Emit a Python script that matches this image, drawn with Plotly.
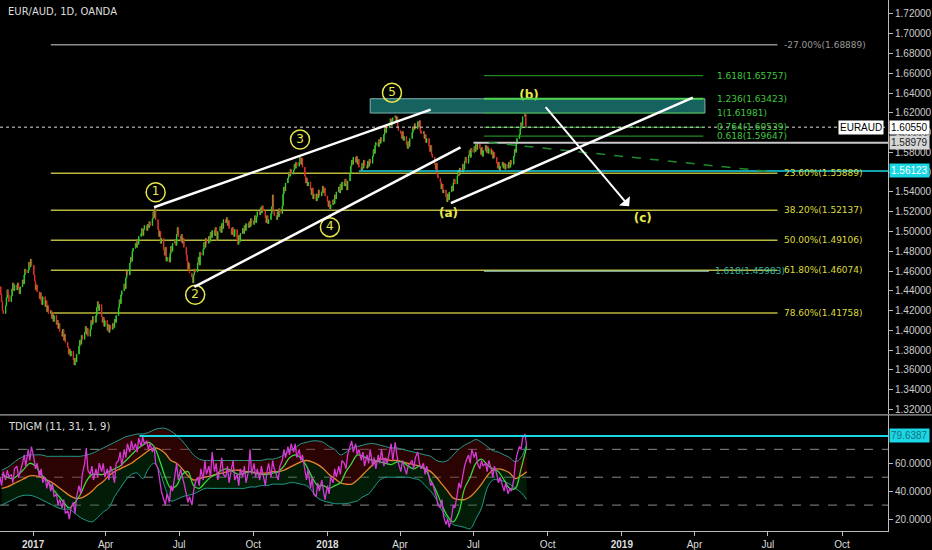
import pandas as pd
import plotly.graph_objects as go
from plotly.subplots import make_subplots

# EUR/AUD daily closes (x 10000), one row per week (Mon-Fri) starting 2016-11-21
closes = [
    14440, 14360, 14290, 14200, 14170,
    14250, 14330, 14410, 14360, 14290,
    14350, 14420, 14480, 14400, 14460,
    14410, 14480, 14430, 14370, 14440,
    14510, 14470, 14560, 14620, 14580,
    14610, 14690, 14640, 14720, 14660,
    14560, 14500, 14410, 14460, 14390,
    14320, 14380, 14300, 14260, 14340,
    14240, 14300, 14190, 14250, 14170,
    14200, 14120, 14180, 14090, 14150,
    14060, 14100, 14020, 14070, 13990,
    13940, 14010, 13900, 13960, 13880,
    13830, 13760, 13810, 13740, 13790,
    13700, 13650, 13720, 13680, 13760,
    13840, 13900, 13860, 13950, 13910,
    13980, 14040, 13960, 14020, 13940,
    14010, 14100, 14060, 14140, 14080,
    14150, 14230, 14290, 14200, 14260,
    14140, 14080, 14130, 14040, 14100,
    14000, 14060, 13980, 14050, 14010,
    14070, 14030, 14110, 14080, 14150,
    14230, 14310, 14270, 14360, 14400,
    14470, 14420, 14530, 14600, 14560,
    14680, 14740, 14700, 14800, 14830,
    14880, 14840, 14920, 14870, 14950,
    14980, 15030, 14960, 15020, 15060,
    15010, 15070, 15040, 15100, 15060,
    15130, 15200, 15140, 15230, 15120,
    15020, 14950, 15000, 14880, 14930,
    14820, 14760, 14840, 14700, 14740,
    14690, 14780, 14850, 14800, 14880,
    14920, 14860, 14970, 15040, 14950,
    14900, 14970, 14880, 14930, 14840,
    14760, 14700, 14620, 14680, 14580,
    14540, 14480, 14560, 14620, 14590,
    14680, 14740, 14660, 14790, 14760,
    14820, 14890, 14840, 14930, 14880,
    14950, 14900, 14990, 14940, 15010,
    14960, 15040, 14980, 14910, 15000,
    15050, 14990, 15080, 15030, 15120,
    15090, 15140, 15060, 15110, 15030,
    14970, 15040, 14990, 14950, 15020,
    14930, 14870, 14960, 14900, 14980,
    15030, 14980, 15060, 15010, 15080,
    15040, 15100, 15050, 15130, 15070,
    15110, 15160, 15090, 15150, 15200,
    15170, 15240, 15190, 15260, 15210,
    15140, 15090, 15160, 15080, 15120,
    15180, 15250, 15370, 15220, 15160,
    15120, 15200, 15150, 15230, 15180,
    15260, 15380, 15450, 15410, 15490,
    15540, 15600, 15560, 15630, 15580,
    15620, 15680, 15640, 15700, 15660,
    15700, 15750, 15680, 15740, 15650,
    15560, 15490, 15540, 15460, 15500,
    15420, 15370, 15440, 15330, 15380,
    15310, 15380, 15340, 15420, 15360,
    15400, 15460, 15390, 15440, 15360,
    15300, 15250, 15310, 15230, 15270,
    15320, 15280, 15370, 15330, 15400,
    15450, 15390, 15480, 15420, 15500,
    15460, 15530, 15480, 15420, 15510,
    15580, 15660, 15720, 15680, 15750,
    15700, 15760, 15680, 15730, 15650,
    15620, 15690, 15640, 15720, 15670,
    15640, 15710, 15660, 15730, 15690,
    15760, 15830, 15790, 15870, 15900,
    15860, 15930, 15890, 15950, 15910,
    15980, 16040, 16000, 16080, 16050,
    16090, 16140, 16070, 16120, 16150,
    16170, 16110, 16160, 16060, 16020,
    15990, 15940, 16010, 15920, 15960,
    15880, 15840, 15910, 15860, 15940,
    16000, 16060, 16030, 16090, 16040,
    16110, 16060, 16120, 16020, 15990,
    16010, 15940, 15980, 15900, 15940,
    15860, 15810, 15870, 15780, 15750,
    15680, 15630, 15690, 15580, 15540,
    15500, 15430, 15480, 15390, 15420,
    15350, 15300, 15380, 15320, 15400,
    15460, 15410, 15490, 15530, 15480,
    15560, 15620, 15570, 15640, 15600,
    15680, 15630, 15710, 15750, 15690,
    15770, 15820, 15750, 15840, 15800,
    15860, 15810, 15880, 15830, 15900,
    15840, 15780, 15850, 15760, 15820,
    15870, 15800, 15860, 15790, 15840,
    15780, 15820, 15740, 15800, 15750,
    15690, 15640, 15700, 15620, 15660,
    15700, 15640, 15690, 15630, 15680,
    15640, 15700, 15650, 15720, 15680,
    15760, 15830, 15800, 15890, 15940,
    15980, 16040, 16100, 16070, 16160,
    16190, 16055,
]

# TDI indicator, weekly values (mid-week)
upper_band = [55, 57, 60, 63, 65, 66, 66, 66, 65, 65,
              65, 65, 65, 65, 65, 66, 67, 69, 71, 73,
              75, 77, 79, 80, 81, 81, 82, 84, 85, 85,
              83, 80, 76, 71, 66, 63, 62, 62, 62, 62,
              62, 62, 62, 62, 62, 62, 62, 63, 63, 64,
              66, 69, 71, 74, 75, 76, 76, 75, 72, 70,
              66, 68, 71, 72, 73, 74, 74, 73, 72, 71,
              71, 70, 69, 68, 67, 66, 65, 62, 61, 62,
              66, 70, 73, 75, 77, 75, 72, 69, 68, 66,
              64, 61, 64, 74]
lower_band = [30, 32, 34, 36, 37, 37, 36, 34, 32, 30,
              28, 27, 27, 24, 21, 19, 18, 21, 25, 28,
              36, 42, 48, 52, 53, 49, 56, 60, 54, 42,
              33, 34, 36, 37, 38, 40, 42, 42, 42, 42,
              42, 42, 42, 42, 43, 43, 44, 44, 45, 45,
              45, 46, 46, 45, 44, 40, 35, 33, 32, 31,
              31, 31, 32, 33, 36, 38, 43, 48, 50, 50,
              50, 50, 50, 49, 48, 44, 40, 34, 26, 20,
              16, 15, 14, 13, 20, 28, 42, 48, 48, 47,
              45, 42, 39, 34]
slow_line = [42, 43, 45, 47, 49, 51, 51, 50, 48, 46,
             43, 40, 37, 35, 35, 37, 40, 44, 47, 51,
             54, 56, 58, 60, 63, 66, 69, 71, 70, 67,
             62, 60, 56, 51, 48, 49, 50, 51, 52, 53,
             54, 55, 55, 54, 54, 53, 53, 53, 54, 54,
             55, 57, 59, 61, 62, 61, 59, 56, 52, 49,
             46, 45, 45, 48, 52, 56, 60, 63, 63, 62,
             62, 61, 60, 59, 58, 56, 54, 50, 45, 40,
             35, 34, 34, 36, 40, 45, 51, 55, 56, 55,
             53, 49, 51, 54]
fast_line = [52, 50, 49, 52, 56, 60, 58, 52, 48, 42,
             37, 32, 28, 32, 38, 47, 52, 52, 52, 54,
             56, 58, 62, 66, 70, 73, 75, 72, 62, 50,
             42, 44, 52, 54, 44, 42, 46, 50, 52, 55,
             56, 54, 52, 53, 54, 53, 52, 52, 53, 54,
             58, 64, 66, 64, 58, 50, 44, 44, 42, 44,
             46, 54, 60, 66, 65, 63, 62, 61, 60, 59,
             61, 61, 58, 56, 58, 56, 48, 40, 30, 22,
             18, 25, 42, 50, 60, 63, 59, 56, 54, 48,
             42, 42, 56, 72]
# RSI price line, Mon / Wed / Fri of each week
rsi_line = [50, 44, 54, 48, 55, 50, 52, 46, 56, 58, 50, 54,
            60, 66, 58, 70, 62, 72, 64, 56, 60, 50, 56, 46,
            50, 42, 48, 40, 46, 36, 38, 30, 34, 28, 34, 24,
            26, 20, 28, 32, 24, 36, 44, 38, 52, 60, 71, 55,
            52, 58, 48, 56, 50, 60, 54, 60, 50, 56, 48, 58,
            52, 46, 60, 62, 68, 58, 70, 64, 74, 68, 76, 70,
            74, 68, 78, 72, 79, 74, 76, 70, 74, 68, 72, 60,
            56, 48, 40, 34, 30, 38, 32, 44, 40, 52, 60, 48,
            56, 50, 46, 38, 32, 36, 30, 40, 46, 50, 44, 56,
            48, 62, 52, 58, 50, 68, 54, 60, 48, 56, 64, 52,
            50, 58, 46, 56, 62, 48, 52, 44, 56, 50, 58, 46,
            54, 70, 52, 60, 50, 56, 48, 58, 52, 44, 54, 60,
            50, 62, 56, 52, 48, 58, 62, 70, 64, 72, 66, 74,
            68, 74, 64, 70, 62, 66, 54, 48, 56, 42, 50, 38,
            36, 46, 40, 48, 40, 34, 44, 38, 50, 46, 56, 50,
            58, 52, 62, 60, 56, 66, 72, 76, 68, 74, 66, 70,
            62, 68, 58, 66, 60, 70, 58, 64, 56, 66, 60, 70,
            58, 64, 60, 68, 74, 62, 75, 66, 60, 54, 62, 58,
            52, 58, 60, 62, 56, 64, 68, 60, 56, 60, 52, 58,
            50, 44, 46, 40, 36, 30, 28, 34, 22, 16, 20, 14,
            22, 30, 28, 38, 46, 42, 52, 58, 62, 66, 60, 70,
            64, 68, 60, 56, 62, 58, 60, 54, 62, 56, 50, 58,
            52, 46, 50, 44, 40, 46, 38, 42, 40, 48, 60, 66,
            72, 70, 78, 81, 72]
tdi_level = 79.6387
last_price = 1.6055

# fibonacci retracement levels
fib_pct = ["-27.00%", "23.60%", "38.20%", "50.00%", "61.80%", "78.60%"]
fib_price = [1.68889, 1.55889, 1.52137, 1.49106, 1.46074, 1.41758]
# trend based extension levels
ext_ratio = ["1.618", "1.236", "1", "0.764", "0.618"]
ext_price = [1.65757, 1.63423, 1.61981, 1.60539, 1.59647]

# wave counts
wave_text = ["1", "2", "3", "4", "5"]
wave_date = ["2017-06-02", "2017-07-21", "2017-11-28", "2018-01-04", "2018-03-22"]
wave_price = [1.5397, 1.4359, 1.5930, 1.5044, 1.6404]
abc_text = ["(a)", "(b)", "(c)"]
abc_date = ["2018-05-31", "2018-09-08", "2019-01-27"]
abc_price = [1.5175, 1.6374, 1.5124]

# drawn trend lines (start date, start price, end date, end price)
trend_lines = [
    ("2017-05-31", 1.5245, "2018-05-09", 1.6233),
    ("2017-07-20", 1.4439, "2018-06-15", 1.5850),
    ("2018-06-03", 1.5286, "2019-03-30", 1.6354),
]
arrow_line = ("2018-09-27", 1.6273, "2019-01-10", 1.5255)

dates = pd.bdate_range("2016-11-21", periods=len(closes))
close = [c / 10000 for c in closes]
open_ = [close[0]] + close[:-1]
high = [max(o, c) for o, c in zip(open_, close)]
low = [min(o, c) for o, c in zip(open_, close)]

week_dates = pd.date_range("2016-11-23", periods=len(upper_band), freq="7D")
rsi_dates = [d + pd.Timedelta(days=off)
             for d in pd.date_range("2016-11-21", periods=len(upper_band), freq="7D")
             for off in (0, 2, 4)][:len(rsi_line)]

x_start, x_end = "2016-11-21", "2019-11-27"

fig = make_subplots(rows=2, cols=1, shared_xaxes=True, vertical_spacing=0.0)

fig.add_trace(go.Candlestick(
    x=dates, open=open_, high=high, low=low, close=close,
    increasing=dict(line=dict(color="#2fd12f", width=1), fillcolor="#2fd12f"),
    decreasing=dict(line=dict(color="#e0302a", width=1), fillcolor="#e0302a"),
    whiskerwidth=0, hoverinfo="skip"), row=1, col=1)

# wave labels
fig.add_trace(go.Scatter(
    x=wave_date, y=wave_price, mode="markers+text", text=wave_text,
    textposition="middle center",
    textfont=dict(color="#e8e84a", size=12, family="DejaVu Sans"),
    marker=dict(symbol="circle-open", size=19, color="#e8e84a", line=dict(width=1.5)),
    hoverinfo="skip"), row=1, col=1)
fig.add_trace(go.Scatter(
    x=abc_date, y=abc_price, mode="text", text=["<b>%s</b>" % t for t in abc_text],
    textfont=dict(color="#e8e84a", size=12, family="DejaVu Sans"),
    hoverinfo="skip"), row=1, col=1)

# TDI pane
fig.add_trace(go.Scatter(x=week_dates, y=lower_band, mode="lines", line=dict(color="#249a8c", width=1),
                         line_shape="spline", hoverinfo="skip"), row=2, col=1)
fig.add_trace(go.Scatter(x=week_dates, y=slow_line, mode="lines", line=dict(width=0), line_shape="spline",
                         fill="tonexty", fillcolor="rgba(10,80,20,0.35)", hoverinfo="skip"), row=2, col=1)
fig.add_trace(go.Scatter(x=week_dates, y=upper_band, mode="lines", line=dict(color="#249a8c", width=1),
                         line_shape="spline", fill="tonexty", fillcolor="rgba(110,8,8,0.4)",
                         hoverinfo="skip"), row=2, col=1)
fig.add_trace(go.Scatter(x=week_dates, y=slow_line, mode="lines", line=dict(color="#e8862a", width=1.3),
                         line_shape="spline", hoverinfo="skip"), row=2, col=1)
fig.add_trace(go.Scatter(x=week_dates, y=fast_line, mode="lines", line=dict(color="#39d739", width=1.3),
                         line_shape="spline", hoverinfo="skip"), row=2, col=1)
fig.add_trace(go.Scatter(x=rsi_dates, y=rsi_line, mode="lines", line=dict(color="#d53ad5", width=1.3),
                         hoverinfo="skip"), row=2, col=1)

shapes = []
annotations = []
lab_font = dict(family="DejaVu Sans", size=9)

# retracement levels
for pct, p in zip(fib_pct, fib_price):
    col = "#8c8c8c" if pct.startswith("-") else "#b8b83c"
    txt = "#9a9a9a" if pct.startswith("-") else "#dcdc3a"
    shapes.append(dict(type="line", xref="x", yref="y", x0="2017-01-23", x1="2019-07-13",
                       y0=p, y1=p, line=dict(color=col, width=1.5), layer="below"))
    annotations.append(dict(xref="x", yref="y", x="2019-07-18", y=p, xanchor="left", showarrow=False,
                            text="%s(%.5f)" % (pct, p), font=dict(lab_font, color=txt)))

# target box between 1 and 1.236
shapes.append(dict(type="rect", xref="x", yref="y", x0="2018-02-23", x1="2019-04-14",
                   y0=ext_price[2], y1=ext_price[1], fillcolor="rgba(25,115,112,0.85)",
                   line=dict(color="#7fb5b0", width=1), layer="below"))

# extension levels
for r, p in zip(ext_ratio, ext_price):
    shapes.append(dict(type="line", xref="x", yref="y", x0="2018-07-14", x1="2019-04-12",
                       y0=p, y1=p, line=dict(color="#4cd24c" if r == "1.236" else "#2ea82e",
                                             width=2 if r == "1.236" else 1)))
    annotations.append(dict(xref="x", yref="y", x="2019-04-26", y=p, xanchor="left", showarrow=False,
                            text="%s(%.5f)" % (r, p), font=dict(lab_font, color="#3fc83f")))
shapes.append(dict(type="line", xref="x", yref="y", x0="2018-07-14", x1="2019-04-19",
                   y0=1.45983, y1=1.45983, line=dict(color="#a8e0e0", width=1)))
annotations.append(dict(xref="x", yref="y", x="2019-04-24", y=1.45983, xanchor="left", showarrow=False,
                        text="1.618(1.45983)", font=dict(lab_font, color="#2ab8a8")))

# horizontal price lines
shapes.append(dict(type="line", xref="x", yref="y", x0=x_start, x1=x_end, y0=last_price, y1=last_price,
                   line=dict(color="#dddddd", width=1, dash="dot")))
shapes.append(dict(type="line", xref="x", yref="y", x0="2018-07-01", x1=x_end, y0=1.58979, y1=1.58979,
                   line=dict(color="#c8c8c8", width=2)))
shapes.append(dict(type="line", xref="x", yref="y", x0="2018-02-09", x1=x_end, y0=1.56123, y1=1.56123,
                   line=dict(color="#1ad7e6", width=1.5)))
shapes.append(dict(type="line", xref="x", yref="y", x0="2018-07-20", x1="2019-07-01", y0=1.5900, y1=1.5608,
                   line=dict(color="#1f8a2a", width=1.5, dash="dash")))

# trend lines and arrow
for d0, p0, d1, p1 in trend_lines:
    shapes.append(dict(type="line", xref="x", yref="y", x0=d0, x1=d1, y0=p0, y1=p1,
                       line=dict(color="#ffffff", width=2.5)))
annotations.append(dict(xref="x", yref="y", axref="x", ayref="y", x=arrow_line[2], y=arrow_line[3],
                        ax=arrow_line[0], ay=arrow_line[1], text="", showarrow=True,
                        arrowhead=1, arrowsize=1.2, arrowwidth=2, arrowcolor="#ffffff"))

# TDI pane levels
for lvl in (30, 50, 70):
    shapes.append(dict(type="line", xref="x2", yref="y2", x0=x_start, x1=x_end, y0=lvl, y1=lvl,
                       line=dict(color="#8a8a8a", width=1, dash="dash"), layer="below"))
shapes.append(dict(type="line", xref="x2", yref="y2", x0="2017-05-13", x1=x_end, y0=tdi_level, y1=tdi_level,
                   line=dict(color="#1ad7e6", width=2)))

# pane separator
shapes.append(dict(type="line", xref="paper", yref="paper", x0=0, x1=1.05, y0=0.2186, y1=0.2186,
                   line=dict(color="#cccccc", width=1)))

# axis price tags
ax_font = dict(family="Liberation Sans", size=10)
annotations.append(dict(xref="paper", yref="y", x=1, xshift=1, y=last_price, xanchor="left", showarrow=False,
                        text="%.5f" % last_price, bgcolor="#ffffff", borderpad=1,
                        font=dict(ax_font, color="#000000")))
annotations.append(dict(xref="paper", yref="y", x=0.996, y=last_price, xanchor="right", showarrow=False,
                        text="EURAUD", bgcolor="#ffffff", borderpad=1, font=dict(ax_font, color="#000000")))
annotations.append(dict(xref="paper", yref="y", x=1, xshift=1, y=1.58979, xanchor="left", showarrow=False,
                        text="1.58979", bgcolor="#d6d6d6", borderpad=1, font=dict(ax_font, color="#222222")))
annotations.append(dict(xref="paper", yref="y", x=1, xshift=1, y=1.56123, xanchor="left", showarrow=False,
                        text="1.56123", bgcolor="#1ad7e6", borderpad=1, font=dict(ax_font, color="#ffffff")))
annotations.append(dict(xref="paper", yref="y2", x=1, xshift=1, y=tdi_level, xanchor="left", showarrow=False,
                        text="%.4f" % tdi_level, bgcolor="#1ad7e6", borderpad=1,
                        font=dict(ax_font, color="#1b6d7a")))

# pane titles
annotations.append(dict(xref="paper", yref="paper", x=0.007, y=0.979, xanchor="left", yanchor="middle",
                        showarrow=False, text="EUR/AUD, 1D, OANDA",
                        font=dict(family="DejaVu Sans", size=10, color="#dddddd")))
annotations.append(dict(xref="paper", yref="paper", x=0.007, y=0.197, xanchor="left", yanchor="middle",
                        showarrow=False, text="TDIGM (11, 31, 1, 9)",
                        font=dict(family="DejaVu Sans", size=10, color="#dddddd")))

tick_dates = pd.date_range("2017-01-01", "2019-10-01", freq="QS")
tick_text = ["<b>%d</b>" % d.year if d.month == 1 else d.strftime("%b") for d in tick_dates]

fig.update_layout(
    width=932, height=550, showlegend=False,
    paper_bgcolor="#000000", plot_bgcolor="#000000",
    margin=dict(l=0, r=41, t=0, b=17),
    shapes=shapes, annotations=annotations,
    font=dict(family="Liberation Sans", color="#dddddd"),
)
fig.update_xaxes(range=[x_start, x_end], showgrid=False, zeroline=False, rangeslider_visible=False)
fig.update_xaxes(showticklabels=False, row=1, col=1)
fig.update_xaxes(tickvals=tick_dates, ticktext=tick_text, ticks="outside", ticklen=4, tickcolor="#bbbbbb",
                 tickfont=dict(size=10, color="#dddddd"), showline=True, linecolor="#bbbbbb",
                 row=2, col=1)
fig.update_yaxes(domain=[0.2195, 1], range=[1.31496, 1.73411], side="right", dtick=0.02, tick0=1.32,
                 tickformat=".5f", ticks="outside", ticklen=4, tickcolor="#bbbbbb", showgrid=False,
                 zeroline=False, showline=True, linecolor="#bbbbbb",
                 tickfont=dict(size=10, color="#cccccc"), row=1, col=1)
fig.update_yaxes(domain=[0, 0.2176], range=[11.43, 94.29], side="right", tickvals=[20, 40, 60],
                 tickformat=".4f", ticks="outside", ticklen=4, tickcolor="#bbbbbb", showgrid=False,
                 zeroline=False, showline=True, linecolor="#bbbbbb",
                 tickfont=dict(size=10, color="#cccccc"), row=2, col=1)

# the page body has a default 8px margin; drop it so the chart fills the window
fig.write_html("out.html", config={"displayModeBar": False},
               post_script="document.body.style.margin='0';document.body.style.background='#000';")
